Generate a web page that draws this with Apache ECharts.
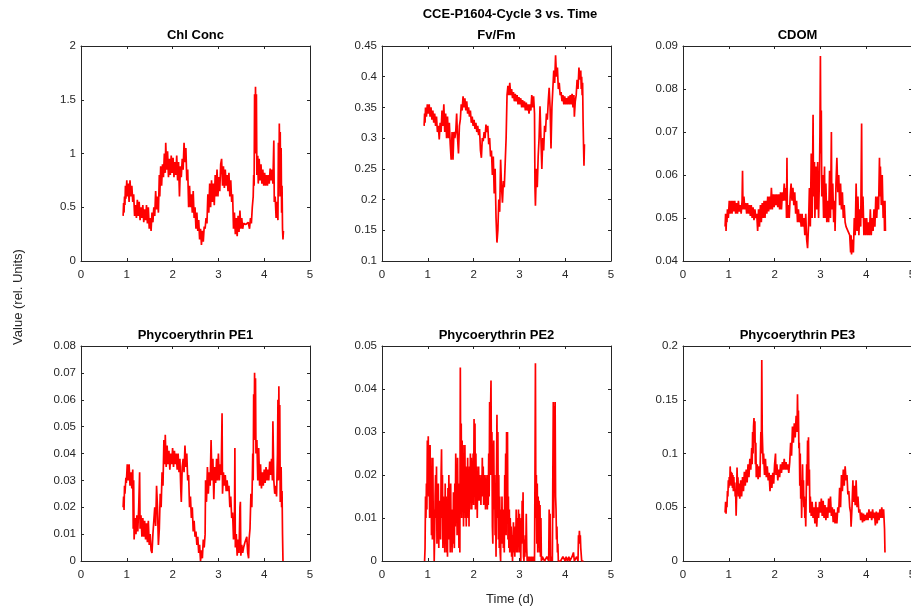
<!DOCTYPE html>
<html>
<head>
<meta charset="utf-8">
<title>CCE-P1604-Cycle 3 vs. Time</title>
<script src="https://cdn.jsdelivr.net/npm/echarts@6/dist/echarts.min.js"></script>
<style>
  html, body { margin: 0; padding: 0; background: #fff; }
  #main { width: 911px; height: 610px; }
</style>
</head>
<body>
<div id="main"></div>
<script>
// panel titles and y ranges
var panelTitles = ['Chl Conc', 'Fv/Fm', 'CDOM', 'Phycoerythrin PE1', 'Phycoerythrin PE2', 'Phycoerythrin PE3'];
var yMin = [0, 0.1, 0.04, 0, 0, 0];
var yMax = [2, 0.45, 0.09, 0.08, 0.05, 0.2];
var yStep = [0.5, 0.05, 0.01, 0.01, 0.01, 0.05];

// [time (d), value]
var chlConc = [[0.92,0.42],[0.93,0.54],[0.94,0.45],[0.95,0.6],[0.96,0.52],[0.97,0.7],[0.98,0.58],[1.0,0.75],[1.01,0.6],[1.03,0.72],[1.05,0.55],[1.07,0.75],[1.09,0.6],[1.11,0.7],[1.13,0.55],[1.15,0.62],[1.17,0.42],[1.19,0.52],[1.21,0.4],[1.23,0.57],[1.25,0.42],[1.27,0.55],[1.29,0.38],[1.31,0.5],[1.33,0.4],[1.35,0.52],[1.37,0.36],[1.39,0.48],[1.41,0.38],[1.43,0.52],[1.45,0.35],[1.47,0.5],[1.49,0.3],[1.51,0.4],[1.53,0.28],[1.55,0.45],[1.57,0.36],[1.59,0.5],[1.61,0.42],[1.63,0.65],[1.65,0.48],[1.67,0.6],[1.69,0.45],[1.71,0.8],[1.72,0.6],[1.74,0.88],[1.76,0.7],[1.78,0.9],[1.8,0.78],[1.82,1.0],[1.84,0.82],[1.85,1.1],[1.87,0.85],[1.89,1.02],[1.91,0.78],[1.93,0.95],[1.95,0.8],[1.97,0.98],[1.99,0.82],[2.01,0.96],[2.03,0.78],[2.05,0.92],[2.07,0.8],[2.09,0.98],[2.11,0.75],[2.13,0.92],[2.15,0.6],[2.17,0.88],[2.19,0.78],[2.21,0.95],[2.23,0.85],[2.25,1.1],[2.27,0.92],[2.29,1.05],[2.31,0.75],[2.33,0.85],[2.35,0.5],[2.37,0.7],[2.39,0.5],[2.41,0.62],[2.43,0.45],[2.45,0.65],[2.47,0.4],[2.49,0.5],[2.51,0.3],[2.53,0.45],[2.55,0.28],[2.57,0.38],[2.59,0.2],[2.61,0.3],[2.63,0.15],[2.65,0.28],[2.67,0.18],[2.69,0.32],[2.71,0.3],[2.73,0.4],[2.75,0.35],[2.77,0.62],[2.79,0.45],[2.81,0.72],[2.83,0.5],[2.85,0.75],[2.87,0.55],[2.89,0.72],[2.91,0.52],[2.93,0.8],[2.95,0.6],[2.97,0.85],[2.99,0.6],[3.01,0.78],[3.03,0.65],[3.05,0.9],[3.07,0.95],[3.09,0.7],[3.11,0.88],[3.13,0.68],[3.15,0.85],[3.17,0.7],[3.19,0.8],[3.21,0.65],[3.23,0.82],[3.25,0.6],[3.27,0.75],[3.29,0.55],[3.31,0.62],[3.33,0.3],[3.35,0.45],[3.37,0.25],[3.39,0.4],[3.41,0.23],[3.43,0.42],[3.45,0.27],[3.47,0.47],[3.49,0.3],[3.51,0.4],[3.53,0.3],[3.55,0.35],[3.6,0.34],[3.65,0.36],[3.68,0.3],[3.7,0.4],[3.72,0.35],[3.74,0.5],[3.76,0.6],[3.77,0.8],[3.78,0.7],[3.79,1.55],[3.8,1.0],[3.81,1.62],[3.82,1.2],[3.83,1.55],[3.84,0.8],[3.86,0.98],[3.87,0.72],[3.89,0.95],[3.91,0.75],[3.93,0.9],[3.95,0.72],[3.97,0.85],[3.99,0.7],[4.01,0.82],[4.03,0.7],[4.05,0.8],[4.07,0.7],[4.09,0.8],[4.11,0.72],[4.13,0.86],[4.15,0.75],[4.17,0.85],[4.19,0.72],[4.21,1.12],[4.22,0.55],[4.24,0.6],[4.26,0.4],[4.28,0.55],[4.3,0.38],[4.31,1.1],[4.32,0.6],[4.33,1.28],[4.34,0.9],[4.35,1.2],[4.36,0.6],[4.37,1.05],[4.38,0.45],[4.39,0.7],[4.4,0.3],[4.41,0.2],[4.42,0.28]];

var fvFm = [[0.92,0.32],[0.93,0.34],[0.94,0.325],[0.95,0.35],[0.97,0.335],[0.99,0.355],[1.01,0.34],[1.03,0.355],[1.05,0.335],[1.07,0.35],[1.09,0.33],[1.11,0.345],[1.13,0.325],[1.15,0.34],[1.17,0.32],[1.19,0.335],[1.21,0.31],[1.23,0.32],[1.25,0.298],[1.27,0.325],[1.29,0.31],[1.31,0.345],[1.33,0.32],[1.35,0.355],[1.37,0.31],[1.39,0.34],[1.41,0.3],[1.43,0.335],[1.45,0.3],[1.47,0.325],[1.49,0.29],[1.51,0.265],[1.53,0.31],[1.55,0.265],[1.57,0.31],[1.59,0.3],[1.61,0.31],[1.63,0.34],[1.65,0.3],[1.67,0.275],[1.69,0.32],[1.71,0.33],[1.73,0.355],[1.75,0.345],[1.77,0.368],[1.79,0.35],[1.81,0.365],[1.83,0.345],[1.85,0.36],[1.87,0.34],[1.89,0.35],[1.91,0.335],[1.93,0.345],[1.95,0.325],[1.97,0.335],[1.99,0.32],[2.01,0.33],[2.03,0.315],[2.05,0.325],[2.07,0.31],[2.09,0.32],[2.11,0.305],[2.13,0.315],[2.15,0.28],[2.17,0.268],[2.19,0.3],[2.21,0.295],[2.23,0.31],[2.25,0.3],[2.27,0.322],[2.29,0.31],[2.31,0.32],[2.33,0.29],[2.35,0.3],[2.37,0.27],[2.39,0.28],[2.41,0.24],[2.43,0.27],[2.45,0.21],[2.47,0.25],[2.49,0.17],[2.51,0.13],[2.53,0.15],[2.55,0.2],[2.57,0.18],[2.59,0.265],[2.61,0.22],[2.63,0.195],[2.65,0.23],[2.67,0.22],[2.69,0.26],[2.71,0.3],[2.73,0.37],[2.75,0.385],[2.77,0.37],[2.79,0.39],[2.81,0.37],[2.83,0.38],[2.85,0.365],[2.87,0.375],[2.89,0.36],[2.91,0.372],[2.93,0.36],[2.95,0.37],[2.97,0.355],[2.99,0.367],[3.01,0.355],[3.03,0.365],[3.05,0.35],[3.07,0.362],[3.09,0.35],[3.11,0.36],[3.13,0.345],[3.15,0.358],[3.17,0.345],[3.19,0.355],[3.21,0.34],[3.23,0.355],[3.25,0.345],[3.27,0.37],[3.29,0.35],[3.31,0.368],[3.33,0.34],[3.34,0.22],[3.35,0.19],[3.37,0.25],[3.39,0.22],[3.41,0.27],[3.43,0.3],[3.45,0.352],[3.47,0.3],[3.49,0.25],[3.51,0.3],[3.53,0.28],[3.55,0.32],[3.57,0.31],[3.59,0.34],[3.61,0.33],[3.63,0.36],[3.65,0.382],[3.67,0.35],[3.69,0.283],[3.71,0.35],[3.73,0.38],[3.75,0.41],[3.77,0.39],[3.79,0.435],[3.81,0.4],[3.83,0.415],[3.85,0.38],[3.87,0.39],[3.89,0.37],[3.91,0.375],[3.93,0.36],[3.95,0.37],[3.97,0.355],[3.99,0.368],[4.01,0.355],[4.03,0.365],[4.05,0.355],[4.07,0.368],[4.09,0.355],[4.11,0.37],[4.13,0.355],[4.15,0.372],[4.17,0.35],[4.19,0.37],[4.2,0.335],[4.22,0.36],[4.24,0.37],[4.26,0.395],[4.28,0.38],[4.3,0.415],[4.32,0.395],[4.34,0.41],[4.35,0.38],[4.36,0.4],[4.37,0.37],[4.38,0.39],[4.39,0.33],[4.4,0.29],[4.41,0.255],[4.42,0.29]];

var cdom = [[0.92,0.048],[0.93,0.051],[0.94,0.047],[0.95,0.05],[0.96,0.049],[0.97,0.052],[0.99,0.05],[1.01,0.054],[1.03,0.051],[1.05,0.054],[1.07,0.051],[1.09,0.054],[1.11,0.0515],[1.13,0.054],[1.15,0.051],[1.17,0.0535],[1.19,0.051],[1.21,0.054],[1.23,0.0515],[1.25,0.053],[1.27,0.051],[1.29,0.054],[1.3,0.061],[1.31,0.052],[1.33,0.055],[1.35,0.052],[1.37,0.0535],[1.39,0.051],[1.41,0.0535],[1.43,0.051],[1.45,0.053],[1.47,0.0505],[1.49,0.053],[1.51,0.05],[1.53,0.0525],[1.55,0.0495],[1.57,0.052],[1.59,0.05],[1.61,0.051],[1.63,0.047],[1.65,0.052],[1.67,0.048],[1.69,0.053],[1.71,0.049],[1.73,0.0535],[1.75,0.05],[1.77,0.054],[1.79,0.05],[1.81,0.054],[1.83,0.051],[1.85,0.055],[1.87,0.0515],[1.89,0.055],[1.91,0.052],[1.93,0.057],[1.95,0.052],[1.97,0.0555],[1.99,0.0525],[2.01,0.0555],[2.03,0.053],[2.05,0.0555],[2.07,0.0525],[2.09,0.0555],[2.11,0.052],[2.13,0.056],[2.15,0.052],[2.17,0.056],[2.19,0.054],[2.21,0.058],[2.23,0.054],[2.25,0.057],[2.26,0.05],[2.27,0.064],[2.28,0.05],[2.3,0.053],[2.32,0.05],[2.34,0.055],[2.36,0.058],[2.38,0.054],[2.4,0.057],[2.42,0.053],[2.44,0.056],[2.46,0.051],[2.48,0.054],[2.5,0.049],[2.52,0.052],[2.54,0.049],[2.56,0.051],[2.58,0.048],[2.6,0.051],[2.62,0.048],[2.64,0.05],[2.66,0.046],[2.68,0.051],[2.7,0.045],[2.72,0.043],[2.74,0.048],[2.76,0.057],[2.78,0.048],[2.8,0.065],[2.82,0.05],[2.84,0.074],[2.85,0.055],[2.87,0.063],[2.88,0.05],[2.9,0.062],[2.92,0.052],[2.94,0.063],[2.96,0.05],[2.98,0.06],[2.99,0.07],[3.0,0.0877],[3.01,0.065],[3.02,0.075],[3.03,0.055],[3.05,0.06],[3.07,0.05],[3.09,0.062],[3.1,0.05],[3.12,0.058],[3.14,0.049],[3.16,0.054],[3.18,0.049],[3.2,0.061],[3.22,0.05],[3.24,0.07],[3.25,0.052],[3.27,0.058],[3.29,0.049],[3.31,0.054],[3.32,0.047],[3.34,0.058],[3.36,0.064],[3.38,0.056],[3.4,0.06],[3.42,0.053],[3.44,0.058],[3.46,0.052],[3.48,0.056],[3.5,0.05],[3.52,0.053],[3.54,0.049],[3.56,0.048],[3.6,0.047],[3.64,0.046],[3.66,0.042],[3.67,0.046],[3.68,0.0415],[3.7,0.045],[3.72,0.042],[3.74,0.05],[3.76,0.046],[3.78,0.058],[3.8,0.047],[3.82,0.055],[3.84,0.046],[3.86,0.052],[3.88,0.048],[3.9,0.072],[3.91,0.05],[3.93,0.055],[3.95,0.046],[3.97,0.05],[3.99,0.046],[4.01,0.05],[4.03,0.046],[4.05,0.049],[4.07,0.046],[4.09,0.052],[4.11,0.046],[4.13,0.05],[4.15,0.047],[4.17,0.052],[4.19,0.048],[4.21,0.055],[4.23,0.05],[4.25,0.055],[4.27,0.052],[4.29,0.064],[4.3,0.055],[4.31,0.062],[4.33,0.053],[4.35,0.06],[4.37,0.05],[4.39,0.054],[4.4,0.047],[4.41,0.054],[4.42,0.047]];

var pe1 = [[0.92,0.02],[0.93,0.024],[0.94,0.019],[0.95,0.028],[0.96,0.025],[0.98,0.031],[0.99,0.029],[1.01,0.036],[1.03,0.03],[1.05,0.036],[1.07,0.028],[1.09,0.033],[1.11,0.027],[1.13,0.034],[1.14,0.012],[1.15,0.03],[1.16,0.008],[1.18,0.016],[1.2,0.01],[1.22,0.017],[1.24,0.011],[1.26,0.02],[1.28,0.033],[1.29,0.012],[1.31,0.017],[1.33,0.009],[1.35,0.016],[1.37,0.009],[1.39,0.015],[1.41,0.008],[1.43,0.014],[1.45,0.007],[1.47,0.015],[1.49,0.006],[1.51,0.01],[1.53,0.004],[1.55,0.003],[1.57,0.01],[1.59,0.015],[1.61,0.02],[1.63,0.013],[1.65,0.028],[1.67,0.02],[1.69,0.006],[1.71,0.012],[1.73,0.025],[1.75,0.02],[1.77,0.033],[1.79,0.028],[1.81,0.045],[1.83,0.036],[1.84,0.047],[1.86,0.035],[1.88,0.043],[1.9,0.036],[1.92,0.041],[1.94,0.034],[1.96,0.04],[1.98,0.036],[2.0,0.042],[2.02,0.035],[2.04,0.041],[2.06,0.036],[2.08,0.04],[2.1,0.034],[2.12,0.04],[2.14,0.033],[2.16,0.038],[2.18,0.026],[2.19,0.022],[2.21,0.035],[2.23,0.038],[2.25,0.033],[2.27,0.043],[2.29,0.035],[2.31,0.04],[2.33,0.03],[2.35,0.032],[2.37,0.02],[2.39,0.024],[2.41,0.016],[2.43,0.02],[2.45,0.011],[2.47,0.015],[2.49,0.009],[2.51,0.011],[2.53,0.006],[2.55,0.009],[2.57,0.003],[2.59,0.006],[2.61,0.0],[2.63,0.004],[2.65,0.001],[2.67,0.008],[2.69,0.005],[2.71,0.01],[2.72,0.03],[2.74,0.022],[2.76,0.035],[2.78,0.025],[2.8,0.033],[2.82,0.028],[2.84,0.045],[2.86,0.03],[2.88,0.038],[2.9,0.023],[2.92,0.035],[2.94,0.029],[2.96,0.038],[2.98,0.03],[3.0,0.04],[3.02,0.03],[3.04,0.036],[3.06,0.032],[3.08,0.055],[3.09,0.025],[3.11,0.033],[3.13,0.028],[3.15,0.032],[3.17,0.026],[3.19,0.03],[3.21,0.026],[3.23,0.028],[3.25,0.02],[3.27,0.024],[3.29,0.016],[3.31,0.018],[3.33,0.008],[3.35,0.013],[3.36,0.042],[3.37,0.005],[3.39,0.01],[3.41,0.002],[3.43,0.008],[3.45,0.003],[3.47,0.02],[3.48,0.022],[3.49,0.002],[3.51,0.006],[3.53,0.003],[3.55,0.005],[3.58,0.007],[3.62,0.009],[3.64,0.003],[3.66,0.001],[3.67,0.008],[3.69,0.012],[3.71,0.025],[3.73,0.02],[3.75,0.04],[3.76,0.03],[3.77,0.062],[3.78,0.045],[3.79,0.07],[3.8,0.05],[3.81,0.068],[3.82,0.04],[3.84,0.045],[3.86,0.03],[3.88,0.042],[3.9,0.028],[3.92,0.036],[3.94,0.027],[3.96,0.033],[3.98,0.028],[4.0,0.034],[4.02,0.029],[4.04,0.035],[4.06,0.03],[4.08,0.034],[4.1,0.03],[4.12,0.037],[4.14,0.032],[4.16,0.038],[4.18,0.03],[4.19,0.052],[4.21,0.03],[4.23,0.025],[4.25,0.028],[4.27,0.024],[4.29,0.04],[4.3,0.06],[4.31,0.03],[4.32,0.065],[4.33,0.04],[4.34,0.058],[4.35,0.022],[4.37,0.035],[4.38,0.02],[4.39,0.026],[4.4,0.01],[4.41,0.0]];

var pe2 = [[0.93,0.0],[0.94,0.003],[0.95,0.015],[0.96,0.01],[0.97,0.018],[0.98,0.012],[0.99,0.028],[1.0,0.018],[1.01,0.029],[1.02,0.015],[1.03,0.027],[1.04,0.01],[1.05,0.027],[1.06,0.012],[1.07,0.024],[1.08,0.006],[1.09,0.022],[1.1,0.005],[1.11,0.024],[1.12,0.008],[1.13,0.012],[1.14,0.0],[1.15,0.006],[1.16,0.015],[1.17,0.02],[1.18,0.01],[1.19,0.022],[1.2,0.004],[1.21,0.016],[1.22,0.006],[1.23,0.018],[1.24,0.003],[1.25,0.014],[1.26,0.008],[1.27,0.012],[1.28,0.005],[1.29,0.02],[1.3,0.026],[1.31,0.01],[1.32,0.02],[1.33,0.003],[1.34,0.015],[1.35,0.005],[1.36,0.012],[1.37,0.002],[1.38,0.018],[1.39,0.004],[1.4,0.015],[1.41,0.002],[1.42,0.012],[1.43,0.001],[1.44,0.017],[1.45,0.006],[1.46,0.02],[1.47,0.005],[1.48,0.013],[1.49,0.002],[1.5,0.018],[1.51,0.004],[1.52,0.01],[1.53,0.002],[1.54,0.012],[1.55,0.004],[1.56,0.016],[1.57,0.006],[1.58,0.003],[1.59,0.018],[1.6,0.008],[1.61,0.025],[1.62,0.01],[1.63,0.02],[1.64,0.006],[1.65,0.024],[1.66,0.012],[1.67,0.018],[1.68,0.003],[1.69,0.015],[1.7,0.002],[1.71,0.045],[1.72,0.015],[1.73,0.032],[1.74,0.01],[1.75,0.028],[1.76,0.012],[1.77,0.027],[1.78,0.008],[1.79,0.024],[1.8,0.012],[1.81,0.027],[1.82,0.01],[1.83,0.022],[1.84,0.008],[1.85,0.02],[1.86,0.013],[1.87,0.024],[1.88,0.01],[1.89,0.02],[1.9,0.008],[1.91,0.022],[1.92,0.012],[1.93,0.025],[1.94,0.014],[1.95,0.024],[1.96,0.012],[1.97,0.02],[1.98,0.015],[1.99,0.025],[2.0,0.013],[2.01,0.033],[2.02,0.015],[2.03,0.032],[2.04,0.012],[2.05,0.025],[2.06,0.014],[2.07,0.022],[2.08,0.01],[2.09,0.02],[2.1,0.015],[2.11,0.022],[2.12,0.014],[2.13,0.02],[2.14,0.015],[2.15,0.018],[2.16,0.013],[2.17,0.02],[2.18,0.015],[2.19,0.024],[2.2,0.016],[2.21,0.022],[2.22,0.013],[2.23,0.02],[2.24,0.015],[2.25,0.018],[2.26,0.012],[2.27,0.02],[2.28,0.013],[2.29,0.017],[2.3,0.012],[2.31,0.02],[2.32,0.013],[2.33,0.025],[2.34,0.015],[2.35,0.037],[2.36,0.02],[2.37,0.035],[2.38,0.042],[2.39,0.02],[2.4,0.03],[2.41,0.008],[2.42,0.004],[2.43,0.02],[2.44,0.028],[2.45,0.012],[2.46,0.02],[2.47,0.006],[2.48,0.015],[2.49,0.001],[2.5,0.02],[2.51,0.034],[2.52,0.01],[2.53,0.03],[2.54,0.005],[2.55,0.02],[2.56,0.003],[2.57,0.015],[2.58,0.002],[2.59,0.0],[2.6,0.012],[2.61,0.005],[2.62,0.015],[2.63,0.004],[2.64,0.012],[2.65,0.003],[2.66,0.01],[2.67,0.002],[2.68,0.02],[2.69,0.012],[2.7,0.025],[2.71,0.006],[2.72,0.03],[2.73,0.02],[2.74,0.03],[2.75,0.005],[2.76,0.015],[2.77,0.003],[2.78,0.012],[2.79,0.002],[2.8,0.01],[2.81,0.004],[2.82,0.008],[2.83,0.001],[2.84,0.006],[2.85,0.0],[2.86,0.005],[2.87,0.009],[2.88,0.002],[2.89,0.006],[2.9,0.001],[2.91,0.008],[2.92,0.003],[2.93,0.012],[2.94,0.002],[2.95,0.006],[2.96,0.01],[2.97,0.002],[2.98,0.012],[2.99,0.004],[3.0,0.011],[3.01,0.002],[3.02,0.007],[3.03,0.0],[3.04,0.01],[3.05,0.004],[3.06,0.014],[3.07,0.006],[3.08,0.016],[3.09,0.001],[3.1,0.0],[3.11,0.005],[3.12,0.001],[3.13,0.006],[3.14,0.002],[3.15,0.011],[3.16,0.003],[3.17,0.0],[3.19,0.001],[3.21,0.0],[3.23,0.001],[3.25,0.0],[3.27,0.001],[3.29,0.0],[3.31,0.001],[3.33,0.0],[3.34,0.02],[3.35,0.046],[3.36,0.01],[3.37,0.02],[3.38,0.004],[3.39,0.018],[3.4,0.002],[3.41,0.015],[3.42,0.003],[3.43,0.014],[3.44,0.002],[3.45,0.013],[3.46,0.001],[3.47,0.01],[3.48,0.0],[3.5,0.001],[3.55,0.0],[3.6,0.001],[3.64,0.0],[3.65,0.012],[3.66,0.002],[3.67,0.011],[3.68,0.0],[3.7,0.001],[3.72,0.0],[3.73,0.02],[3.74,0.037],[3.75,0.01],[3.76,0.036],[3.77,0.02],[3.78,0.037],[3.79,0.015],[3.8,0.012],[3.81,0.005],[3.82,0.008],[3.83,0.002],[3.84,0.004],[3.85,0.0],[3.9,0.0],[3.95,0.001],[4.0,0.0],[4.02,0.001],[4.05,0.0],[4.08,0.001],[4.1,0.0],[4.15,0.001],[4.18,0.002],[4.2,0.0],[4.25,0.001],[4.28,0.0],[4.29,0.006],[4.3,0.004],[4.31,0.007],[4.32,0.005],[4.33,0.006],[4.34,0.003],[4.36,0.0],[4.4,0.0]];

var pe3 = [[0.92,0.045],[0.93,0.055],[0.94,0.044],[0.95,0.055],[0.96,0.05],[0.97,0.065],[0.98,0.06],[0.99,0.075],[1.0,0.068],[1.01,0.078],[1.02,0.07],[1.03,0.088],[1.04,0.075],[1.05,0.083],[1.06,0.07],[1.07,0.082],[1.08,0.068],[1.09,0.08],[1.1,0.065],[1.11,0.078],[1.12,0.065],[1.13,0.073],[1.14,0.06],[1.15,0.065],[1.16,0.042],[1.17,0.06],[1.18,0.087],[1.19,0.07],[1.2,0.078],[1.21,0.06],[1.22,0.072],[1.24,0.058],[1.26,0.075],[1.28,0.06],[1.3,0.078],[1.32,0.065],[1.34,0.083],[1.36,0.07],[1.38,0.085],[1.4,0.073],[1.42,0.09],[1.44,0.078],[1.46,0.095],[1.48,0.085],[1.5,0.105],[1.51,0.09],[1.52,0.12],[1.53,0.1],[1.54,0.125],[1.55,0.133],[1.56,0.11],[1.57,0.13],[1.58,0.09],[1.59,0.11],[1.6,0.078],[1.62,0.09],[1.64,0.076],[1.66,0.088],[1.68,0.078],[1.7,0.12],[1.71,0.1],[1.72,0.187],[1.73,0.12],[1.74,0.105],[1.75,0.09],[1.76,0.1],[1.78,0.08],[1.8,0.095],[1.82,0.078],[1.84,0.088],[1.86,0.075],[1.88,0.082],[1.9,0.065],[1.92,0.08],[1.94,0.068],[1.96,0.082],[1.98,0.072],[2.0,0.09],[2.02,0.1],[2.03,0.08],[2.05,0.09],[2.07,0.075],[2.09,0.085],[2.11,0.078],[2.13,0.09],[2.15,0.082],[2.17,0.092],[2.19,0.085],[2.21,0.095],[2.23,0.085],[2.25,0.092],[2.27,0.085],[2.29,0.09],[2.31,0.082],[2.33,0.092],[2.35,0.11],[2.37,0.098],[2.39,0.125],[2.41,0.11],[2.43,0.128],[2.45,0.115],[2.47,0.135],[2.49,0.12],[2.5,0.155],[2.51,0.125],[2.52,0.14],[2.53,0.105],[2.54,0.11],[2.55,0.07],[2.56,0.1],[2.57,0.058],[2.58,0.075],[2.59,0.04],[2.6,0.06],[2.61,0.09],[2.62,0.062],[2.63,0.075],[2.64,0.05],[2.65,0.06],[2.66,0.04],[2.67,0.05],[2.68,0.032],[2.69,0.06],[2.7,0.09],[2.71,0.07],[2.72,0.112],[2.73,0.08],[2.74,0.115],[2.75,0.07],[2.76,0.085],[2.77,0.045],[2.78,0.06],[2.8,0.042],[2.82,0.055],[2.84,0.04],[2.86,0.05],[2.88,0.035],[2.9,0.055],[2.92,0.032],[2.94,0.05],[2.96,0.04],[2.98,0.055],[3.0,0.045],[3.02,0.058],[3.04,0.042],[3.06,0.056],[3.08,0.04],[3.1,0.052],[3.12,0.038],[3.14,0.05],[3.16,0.04],[3.18,0.058],[3.2,0.045],[3.22,0.06],[3.24,0.042],[3.26,0.05],[3.28,0.036],[3.3,0.048],[3.32,0.035],[3.34,0.045],[3.36,0.035],[3.38,0.05],[3.4,0.045],[3.42,0.068],[3.44,0.05],[3.46,0.08],[3.48,0.065],[3.5,0.085],[3.52,0.07],[3.54,0.088],[3.56,0.075],[3.58,0.08],[3.6,0.062],[3.62,0.065],[3.64,0.05],[3.66,0.045],[3.67,0.032],[3.69,0.05],[3.71,0.075],[3.72,0.055],[3.74,0.07],[3.76,0.052],[3.78,0.075],[3.8,0.05],[3.82,0.06],[3.84,0.045],[3.86,0.048],[3.88,0.038],[3.9,0.045],[3.92,0.036],[3.94,0.044],[3.96,0.037],[3.98,0.043],[4.0,0.038],[4.02,0.045],[4.04,0.038],[4.06,0.048],[4.08,0.04],[4.1,0.046],[4.12,0.038],[4.14,0.048],[4.16,0.04],[4.18,0.045],[4.2,0.033],[4.22,0.046],[4.24,0.035],[4.26,0.045],[4.28,0.038],[4.3,0.048],[4.32,0.04],[4.34,0.05],[4.36,0.04],[4.38,0.048],[4.4,0.03],[4.41,0.008]];

var panelData = [chlConc, fvFm, cdom, pe1, pe2, pe3];

var FONT = '"Liberation Sans", Arial, Helvetica, sans-serif';
var AXIS_COLOR = '#262626';
var colLeft = [81, 382, 683];
var rowTop = [46, 346];
var plotW = 229, plotH = 215;

var myChart = echarts.init(document.getElementById('main'));

var grids = [], xAxes = [], yAxes = [], series = [], texts = [];

panelTitles.forEach(function (name, i) {
    var col = i % 3, row = Math.floor(i / 3);
    grids.push({ left: colLeft[col], top: rowTop[row], width: plotW, height: plotH,
                 containLabel: false, outerBoundsMode: 'none' });

    var lineStyle = { color: AXIS_COLOR, width: 1 };
    // bottom / left axes with labels, top / right only for the box and ticks
    xAxes.push({
        type: 'value', gridIndex: i, position: 'bottom', min: 0, max: 5, interval: 1,
        axisLine: { show: true, onZero: false, lineStyle: lineStyle },
        axisTick: { show: true, inside: true, length: 3, lineStyle: lineStyle },
        axisLabel: { color: AXIS_COLOR, fontSize: 11.5, fontFamily: FONT, margin: 8, showMaxLabel: true, showMinLabel: true },
        splitLine: { show: false }
    });
    xAxes.push({
        type: 'value', gridIndex: i, position: 'top', min: 0, max: 5, interval: 1,
        axisLine: { show: true, onZero: false, lineStyle: lineStyle },
        axisTick: { show: true, inside: true, length: 3, lineStyle: lineStyle },
        axisLabel: { show: false }, splitLine: { show: false }
    });
    yAxes.push({
        type: 'value', gridIndex: i, position: 'left', min: yMin[i], max: yMax[i], interval: yStep[i],
        axisLine: { show: true, onZero: false, lineStyle: lineStyle },
        axisTick: { show: true, inside: true, length: 3, lineStyle: lineStyle },
        axisLabel: { color: AXIS_COLOR, fontSize: 11.5, fontFamily: FONT, margin: 5, showMaxLabel: true, showMinLabel: true },
        splitLine: { show: false }
    });
    yAxes.push({
        type: 'value', gridIndex: i, position: 'right', min: yMin[i], max: yMax[i], interval: yStep[i],
        axisLine: { show: true, onZero: false, lineStyle: lineStyle },
        axisTick: { show: true, inside: true, length: 3, lineStyle: lineStyle },
        axisLabel: { show: false }, splitLine: { show: false }
    });

    series.push({
        type: 'line', name: name, xAxisIndex: 2 * i, yAxisIndex: 2 * i,
        data: panelData[i], showSymbol: false, symbol: 'none', clip: true,
        animation: false,
        lineStyle: { color: '#ff0000', width: 1.7 }
    });

    texts.push({
        type: 'text', x: colLeft[col] + plotW / 2, y: row === 0 ? 35 : 335,
        style: { text: name, align: 'center', verticalAlign: 'middle', textAlign: 'center', textVerticalAlign: 'middle',
                 fontSize: 13, fontWeight: 'bold', fontFamily: FONT, fill: '#000' }
    });
});

texts.push({
    type: 'text', x: 510, y: 14,
    style: { text: 'CCE-P1604-Cycle 3 vs. Time', align: 'center', verticalAlign: 'middle', textAlign: 'center', textVerticalAlign: 'middle',
             fontSize: 13, fontWeight: 'bold', fontFamily: FONT, fill: '#000' }
});
texts.push({
    type: 'text', x: 510, y: 599,
    style: { text: 'Time (d)', align: 'center', verticalAlign: 'middle', textAlign: 'center', textVerticalAlign: 'middle',
             fontSize: 13, fontFamily: FONT, fill: AXIS_COLOR }
});
texts.push({
    type: 'text', x: 18, y: 297, rotation: Math.PI / 2,
    style: { text: 'Value (rel. Units)', align: 'center', verticalAlign: 'middle', textAlign: 'center', textVerticalAlign: 'middle',
             fontSize: 13, fontFamily: FONT, fill: AXIS_COLOR }
});

var option = {
    backgroundColor: '#ffffff',
    animation: false,
    grid: grids,
    xAxis: xAxes,
    yAxis: yAxes,
    series: series,
    graphic: texts
};
myChart.setOption(option);
</script>
</body>
</html>
